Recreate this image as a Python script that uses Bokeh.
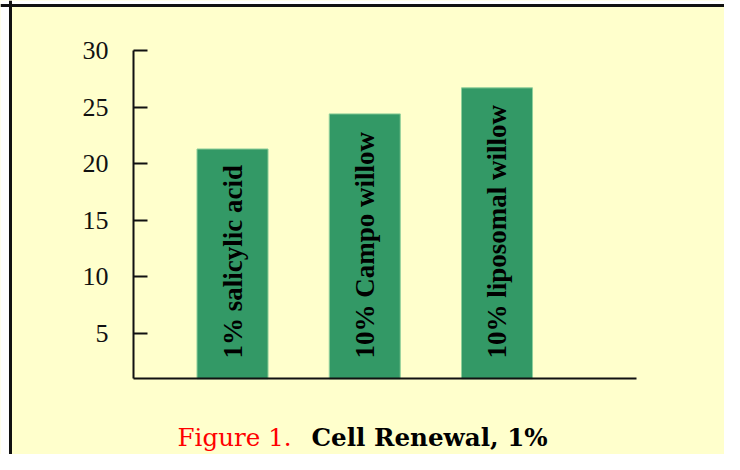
import math
from bokeh.plotting import figure
from bokeh.models import Range1d, LinearAxis, FixedTicker, Span, Label, BoxAnnotation
from bokeh.core.properties import value
from bokeh.embed import file_html
from bokeh.resources import INLINE

# ---- data ----
categories = ["1% salicylic acid", "10% Campo willow", "10% liposomal willow"]
positions = [1, 2, 3]
values = [21.3, 24.4, 26.7]
y_ticks = [5, 10, 15, 20, 25, 30]
axis_min = 1.0
axis_max = 30
title_prefix = "Figure 1."
title_main = "Cell Renewal, 1%"

# ---- figure (fits 740x470 window with 8px page margin) ----
p = figure(width=724, height=454,
           x_range=Range1d(-0.7543, 4.720), y_range=Range1d(-5.689, 34.417),
           output_backend="svg", toolbar_location=None,
           x_axis_location=None, y_axis_location=None,
           min_border=0, min_border_left=0, min_border_right=0,
           min_border_top=0, min_border_bottom=0)
p.background_fill_color = "#FFFFCC"
p.border_fill_color = "#FFFFCC"
p.outline_line_color = None
p.xgrid.visible = False
p.ygrid.visible = False

# white page area outside the framed box
p.add_layout(BoxAnnotation(right=-0.690, fill_color="white", fill_alpha=1,
                           line_color=None, level="underlay"))
p.add_layout(BoxAnnotation(bottom=34.108, fill_color="white", fill_alpha=1,
                           line_color=None, level="underlay"))

# y axis drawn at a fixed location inside the frame
yaxis = LinearAxis(fixed_location=0.2514, bounds=(axis_min, axis_max),
                   ticker=FixedTicker(ticks=y_ticks))
yaxis.major_tick_in = 14
yaxis.major_tick_out = 0
yaxis.minor_tick_line_color = None
yaxis.axis_line_width = 2
yaxis.axis_line_color = "#111111"
yaxis.major_tick_line_width = 2
yaxis.major_tick_line_color = "#111111"
yaxis.major_label_text_font = "Liberation Serif"
yaxis.major_label_text_font_size = "26px"
yaxis.major_label_text_color = "#111111"
yaxis.major_label_standoff = 25
p.add_layout(yaxis, "left")

xaxis = LinearAxis(fixed_location=axis_min, bounds=(0.2514, 4.055),
                   ticker=FixedTicker(ticks=[]))
xaxis.major_tick_line_color = None
xaxis.minor_tick_line_color = None
xaxis.major_label_text_font_size = "0px"
xaxis.axis_line_width = 2
xaxis.axis_line_color = "#111111"
p.add_layout(xaxis, "below")

# bars
p.vbar(x=positions, top=values, bottom=axis_min, width=0.537,
       fill_color="#339966", line_color="#8fcf9a", line_width=1)

# labels inside bars
p.text(x=positions, y=[2.8] * len(positions), text=categories,
       angle=math.pi / 2, text_font=value("Liberation Serif"),
       text_font_style="bold", text_font_size="27px",
       text_align="left", text_baseline="middle", text_color="black")

# frame border (left and top)
p.add_layout(Span(location=-0.6787, dimension="height",
                  line_color="#111111", line_width=3))
p.add_layout(Span(location=33.975, dimension="width",
                  line_color="#111111", line_width=3))

# caption
p.add_layout(Label(x=0.584, y=-4.187, text=title_prefix,
                   text_font="DejaVu Serif", text_font_size="24.6px",
                   text_color="#FF0000", text_baseline="middle"))
p.add_layout(Label(x=1.597, y=-4.187, text=title_main,
                   text_font="DejaVu Serif", text_font_size="24.6px",
                   text_font_style="bold", text_color="black",
                   text_baseline="middle"))

open("out.html", "w").write(file_html(p, INLINE))
